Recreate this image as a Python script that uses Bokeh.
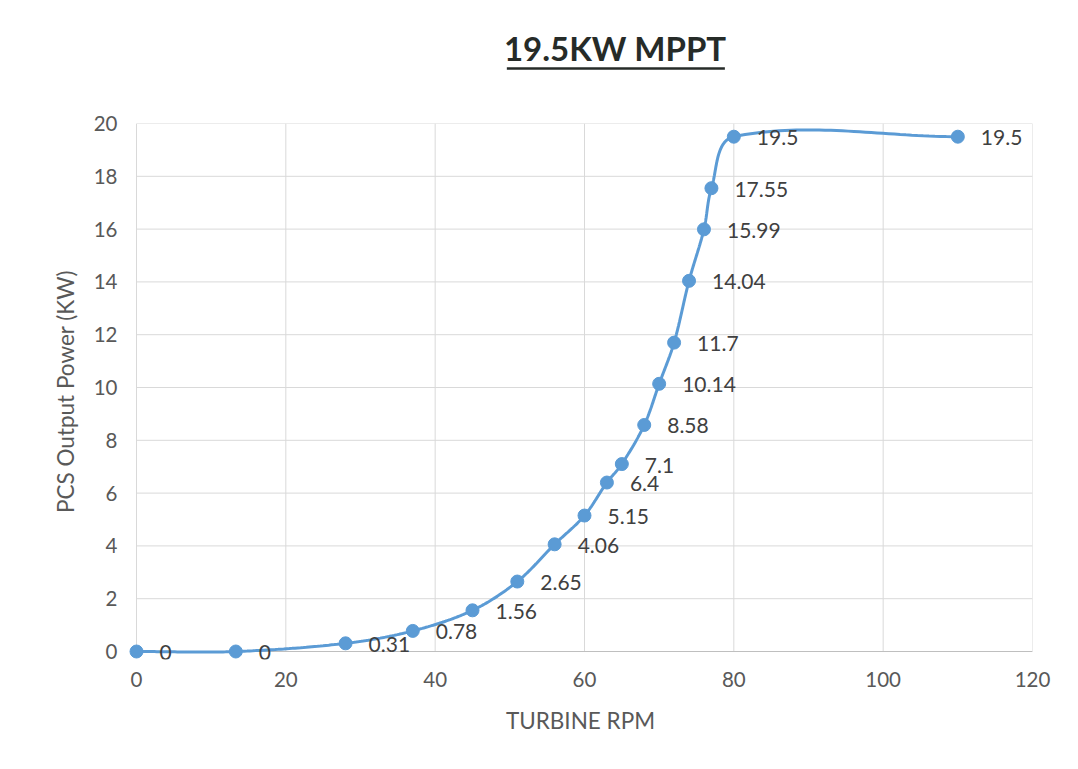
import numpy as np
from bokeh.plotting import figure
from bokeh.layouts import column
from bokeh.models import FixedTicker, ColumnDataSource, Range1d, LabelSet
from bokeh.core.properties import value
from bokeh.embed import file_html
from bokeh.resources import INLINE

# ---- data ----
title_text = "19.5KW MPPT"
x_label = "TURBINE RPM"
y_label = "PCS Output Power (KW)"
rpm = [0, 13.3, 28, 37, 45, 51, 56, 60, 63, 65, 68, 70, 72, 74, 76, 77, 80, 110]
power = [0, 0, 0.31, 0.78, 1.56, 2.65, 4.06, 5.15, 6.4, 7.1, 8.58, 10.14, 11.7, 14.04, 15.99, 17.55, 19.5, 19.5]
labels = ["0", "0", "0.31", "0.78", "1.56", "2.65", "4.06", "5.15", "6.4", "7.1", "8.58", "10.14", "11.7", "14.04", "15.99", "17.55", "19.5", "19.5"]
x_ticks = [0, 20, 40, 60, 80, 100, 120]
y_ticks = [0, 2, 4, 6, 8, 10, 12, 14, 16, 18, 20]

FONT = "Lato"
BLUE = "#5b9bd5"
GRID = "#d9d9d9"
W = 1070
TH = 98
H = 669
PAD = 8  # px of room left/below the axes so edge markers are not cut
BL, BR, BT, BB = 136 - PAD, 38, 25, 116 - PAD

xmin, xmax = x_ticks[0], x_ticks[-1]
ymin, ymax = y_ticks[0], y_ticks[-1]
sx = (W - 136 - BR) / (xmax - xmin)
sy = (H - BT - 116) / (ymax - ymin)
x_pad = PAD / sx
y_pad = PAD / sy

# ---- smoothed line (Bezier in screen space, handle length tied to each segment) ----
P = np.column_stack([np.array(rpm) * sx, np.array(power) * sy])
n = len(P)


def unit(v):
    d = np.hypot(v[0], v[1])
    return v / d if d > 0 else v


xs, ys = [], []
for i in range(n - 1):
    p1, p2 = P[i], P[i + 1]
    p0 = P[i - 1] if i > 0 else P[i]
    p3 = P[i + 2] if i + 2 < n else P[i + 1]
    L = np.hypot(*(p2 - p1)) / 3.0
    c1 = p1 + unit(p2 - p0) * L
    c2 = p2 - unit(p3 - p1) * L
    t = np.linspace(0, 1, 40)[:, None]
    b = (1 - t) ** 3 * p1 + 3 * (1 - t) ** 2 * t * c1 + 3 * (1 - t) * t ** 2 * c2 + t ** 3 * p2
    xs.extend(b[:, 0] / sx)
    ys.extend(b[:, 1] / sy)

# ---- title figure (same horizontal borders / x range as the chart) ----
t = figure(width=W, height=TH, output_backend="svg", toolbar_location=None,
           x_range=Range1d(xmin - x_pad, xmax), y_range=Range1d(0, TH),
           x_axis_type=None, y_axis_type=None,
           min_border_left=BL, min_border_right=BR, min_border_top=0, min_border_bottom=0)
t.outline_line_color = None
t.xgrid.visible = False
t.ygrid.visible = False
t.text(x=[64.1], y=[51], text=[title_text], text_font=value(FONT), text_font_style="bold",
       text_font_size="33px", text_color="#262b28", text_align="center", text_baseline="middle")
t.line(x=[49.6, 78.8], y=[30, 30], line_color="#262b28", line_width=2.5)

# ---- main figure ----
p = figure(width=W, height=H, output_backend="svg", toolbar_location=None,
           x_range=Range1d(xmin - x_pad, xmax), y_range=Range1d(ymin - y_pad, ymax),
           min_border_left=BL, min_border_right=BR, min_border_top=BT, min_border_bottom=BB)
p.outline_line_color = None
p.background_fill_color = "white"
p.border_fill_color = "white"
p.xgrid.visible = False
p.ygrid.visible = False

p.xaxis.ticker = FixedTicker(ticks=x_ticks)
p.yaxis.ticker = FixedTicker(ticks=y_ticks)
for ax in (p.xaxis, p.yaxis):
    ax.major_tick_line_color = None
    ax.minor_tick_line_color = None
    ax.axis_line_color = None
    ax.major_label_text_font = FONT
    ax.major_label_text_font_size = "20.5px"
    ax.major_label_text_color = "#595959"
    ax.axis_label_text_font = FONT
    ax.axis_label_text_font_size = "22.5px"
    ax.axis_label_text_font_style = "normal"
    ax.axis_label_text_color = "#595959"
p.xaxis.major_label_standoff = 6
p.yaxis.major_label_standoff = 5
p.xaxis.axis_label = x_label
p.yaxis.axis_label = y_label
p.xaxis.axis_label_standoff = 17
p.yaxis.axis_label_standoff = 12

# gridlines drawn from the tick arrays, limited to the data area
p.segment(x0=x_ticks, y0=[ymin] * len(x_ticks), x1=x_ticks, y1=[ymax] * len(x_ticks),
          line_color=GRID, line_width=1)
p.segment(x0=[xmin] * len(y_ticks), y0=y_ticks, x1=[xmax] * len(y_ticks), y1=y_ticks,
          line_color=GRID, line_width=1)
p.segment(x0=[xmin], y0=[ymin], x1=[xmax], y1=[ymin], line_color="#bfbfbf", line_width=1)

p.line(xs, ys, line_color=BLUE, line_width=3)
src = ColumnDataSource(dict(x=rpm, y=power, lab=labels))
p.scatter("x", "y", source=src, size=13, fill_color=BLUE, line_color=BLUE)
p.add_layout(LabelSet(x="x", y="y", text="lab", source=src, x_offset=23, y_offset=-1,
                      text_font=value(FONT), text_font_size="21px", text_color="#404040",
                      text_baseline="middle", text_align="left"))

layout = column(t, p, spacing=0)
open("out.html", "w").write(file_html(layout, INLINE))
